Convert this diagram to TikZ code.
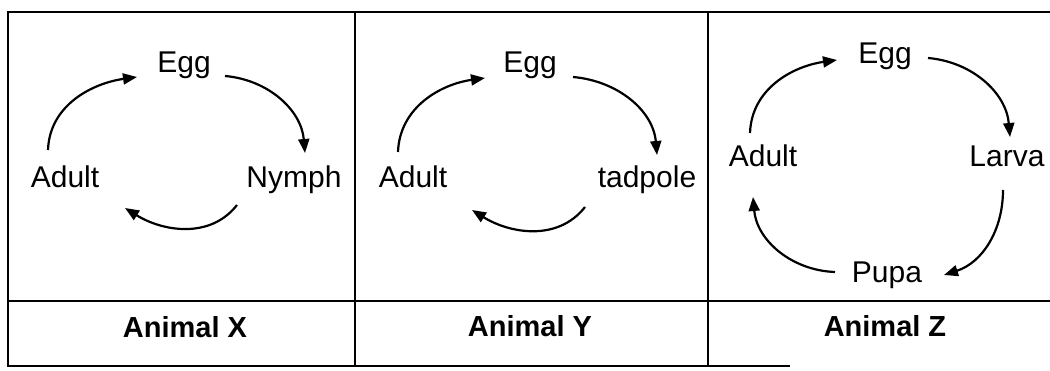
\documentclass[tikz,border=0pt]{standalone}
\usepackage{fontspec}
\setmainfont{Liberation Sans}
\usetikzlibrary{arrows.meta}

\begin{document}
\begin{tikzpicture}[x=1pt,y=1pt,
    stage/.style={anchor=base, inner sep=0pt, font=\fontsize{30}{36}\selectfont},
    animal/.style={anchor=base, inner sep=0pt, font=\fontsize{29}{35}\selectfont\bfseries},
    cyc/.style={line width=2.2pt, -{Triangle[length=14pt,width=11pt]}},
    tabline/.style={line width=2.5pt}]
  \useasboundingbox (0,0) rectangle (1050,371);
  % table frame
  \draw[tabline] (1050,359) -- (8,359) -- (8,5) -- (790,5);
  \draw[tabline] (8,70) -- (1050,70);
  \draw[tabline] (355,359) -- (355,5);
  \draw[tabline] (708,359) -- (708,5);

  % animal X
  \node[stage] (eggX) at (184,298) {Egg};
  \node[stage] (adultX) at (65,183) {Adult};
  \node[stage] (nymphX) at (294,183) {Nymph};
  \node[animal] (nameX) at (185,33) {Animal X};
  \draw[cyc] ([shift={(-17,38)}]adultX.base) to[out=88,in=188] ([shift={(-47,-4)}]eggX.base);
  \draw[cyc] ([shift={(41,-3)}]eggX.base) to[out=-5,in=95] ([shift={(11,35)}]nymphX.base);
  \draw[cyc] ([shift={(-57,-17)}]nymphX.base) to[out=-128,in=-32] ([shift={(60,-20)}]adultX.base);

  % animal Y
  \node[stage] (eggY) at (530,298) {Egg};
  \node[stage] (adultY) at (413,183) {Adult};
  \node[stage] (tadpoleY) at (647,183) {tadpole};
  \node[animal] (nameY) at (530,34) {Animal Y};
  \draw[cyc] ([shift={(-15,36)}]adultY.base) to[out=88,in=188] ([shift={(-45,-5)}]eggY.base);
  \draw[cyc] ([shift={(43,-4)}]eggY.base) to[out=-5,in=95] ([shift={(10,33)}]tadpoleY.base);
  \draw[cyc] ([shift={(-62,-19)}]tadpoleY.base) to[out=-128,in=-32] ([shift={(59,-22)}]adultY.base);

  % animal Z
  \node[stage] (eggZ) at (885,307) {Egg};
  \node[stage] (adultZ) at (763,204) {Adult};
  \node[stage] (larvaZ) at (1007,204) {Larva};
  \node[stage] (pupaZ) at (887,88) {Pupa};
  \node[animal] (nameZ) at (885,34) {Animal Z};
  \draw[cyc] ([shift={(-13,34)}]adultZ.base) to[out=88,in=188] ([shift={(-48,4)}]eggZ.base);
  \draw[cyc] ([shift={(43,6)}]eggZ.base) to[out=-5,in=95] ([shift={(3,30)}]larvaZ.base);
  \draw[cyc] ([shift={(-4,-23)}]larvaZ.base) to[out=-90,in=18] ([shift={(57,8)}]pupaZ.base);
  \draw[cyc] ([shift={(-52,11)}]pupaZ.base) to[out=178,in=-85] ([shift={(-10,-30)}]adultZ.base);
\end{tikzpicture}
\end{document}
